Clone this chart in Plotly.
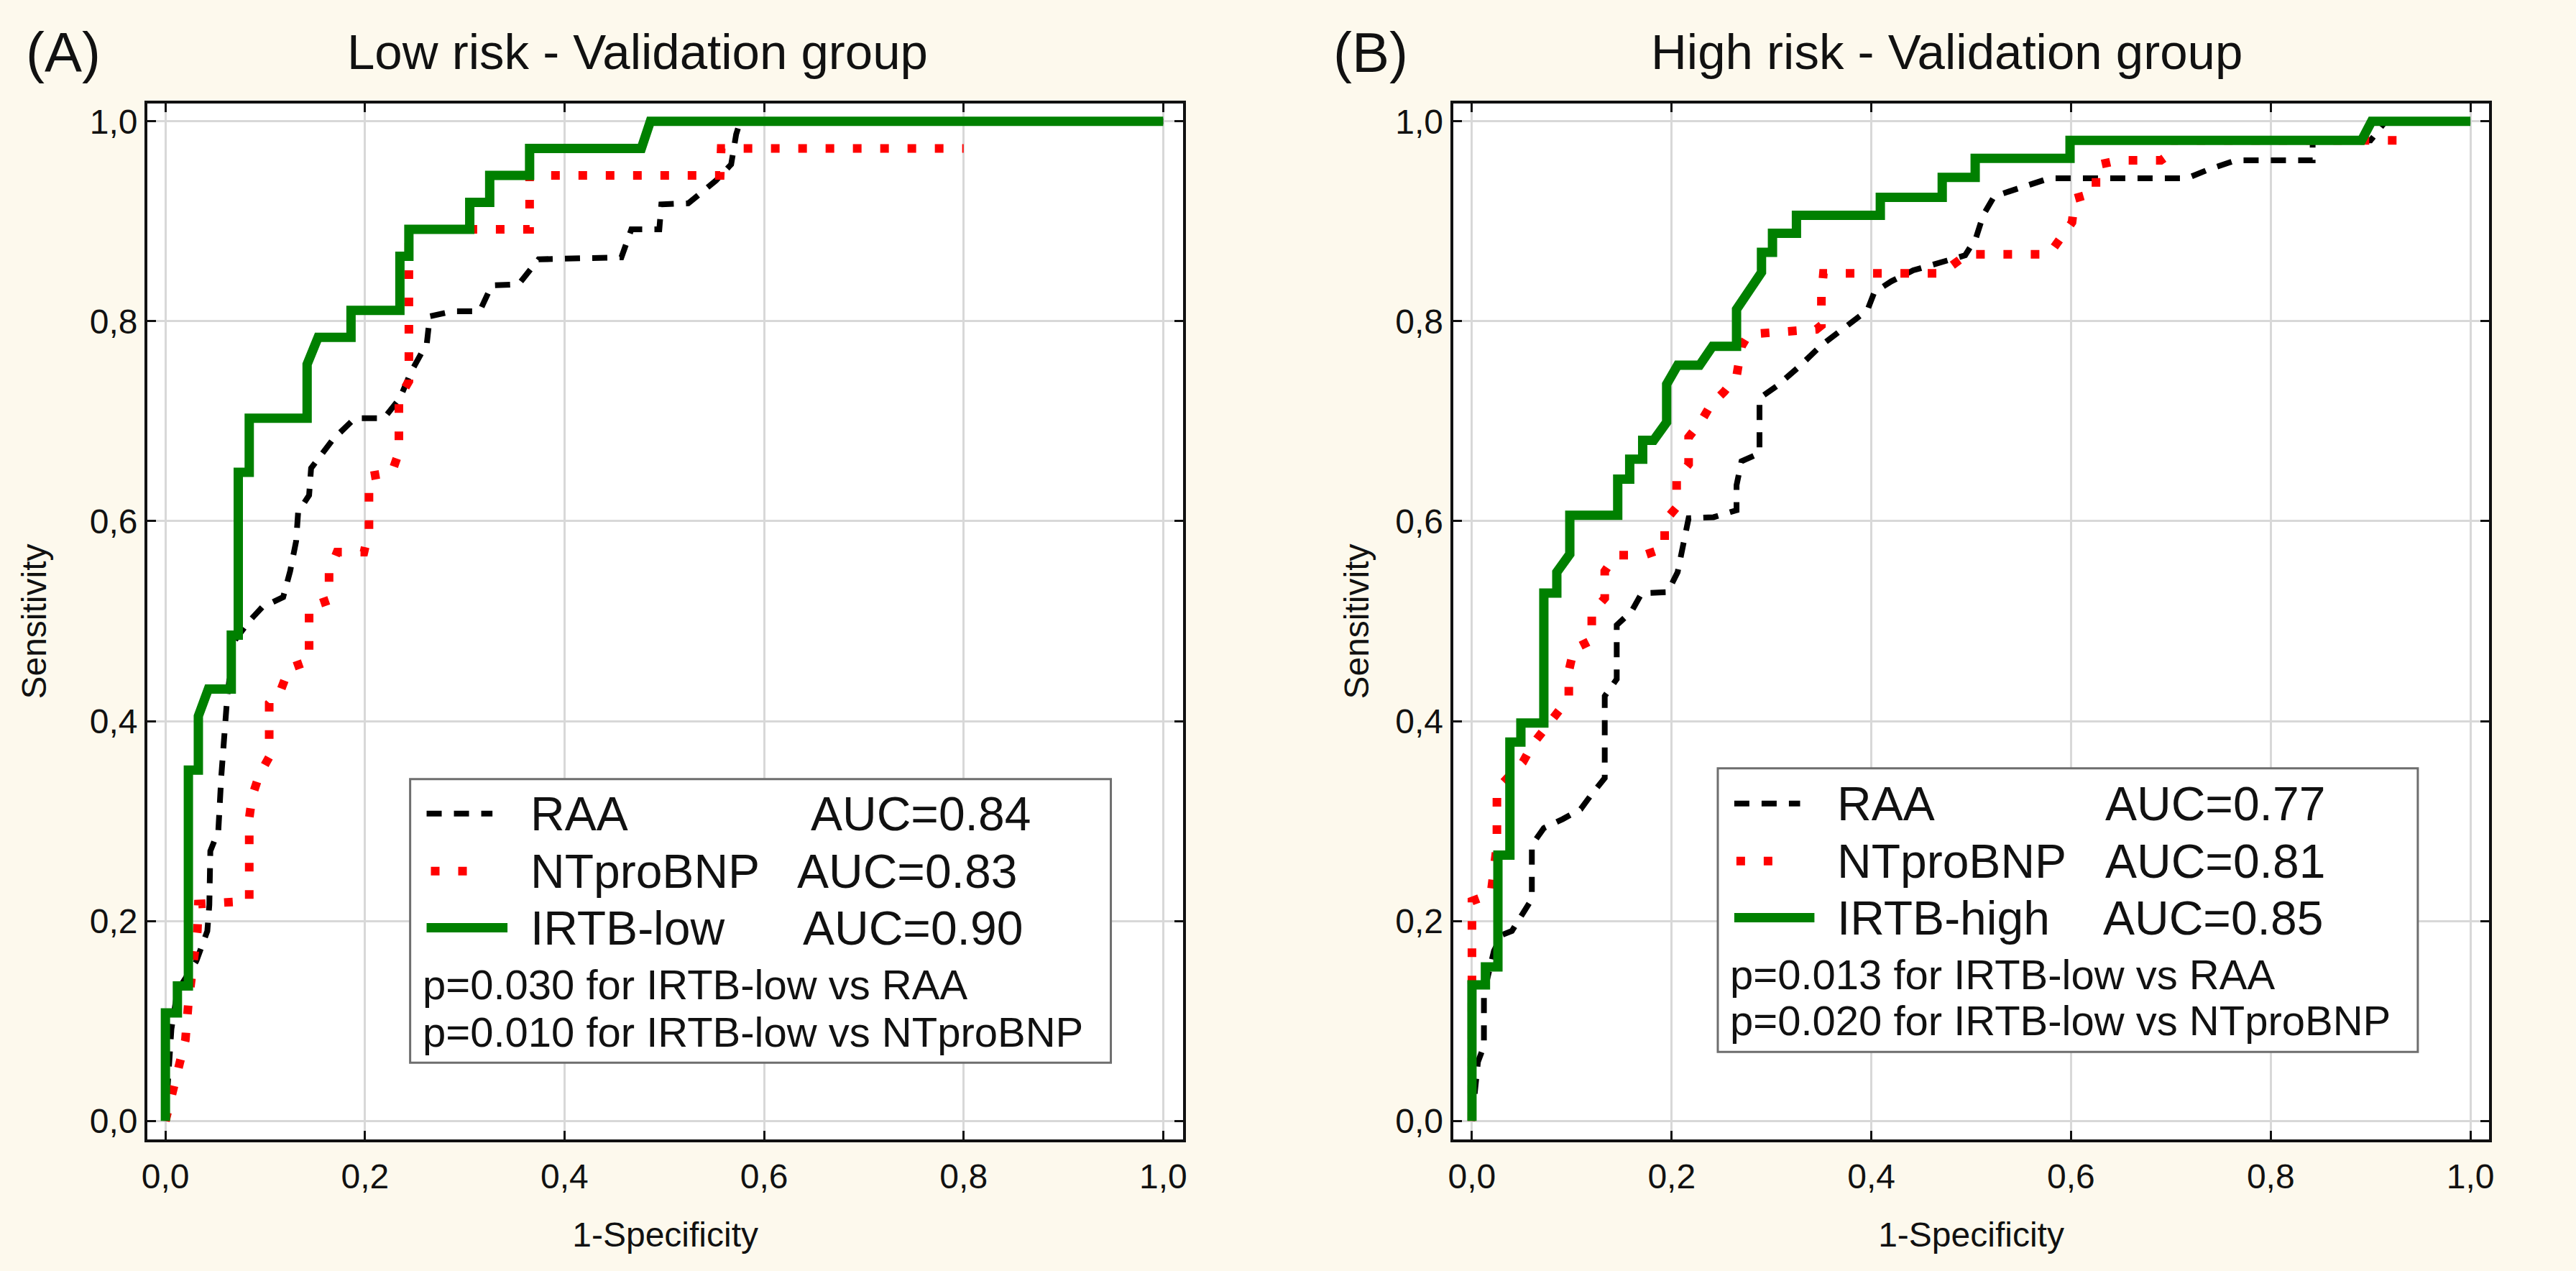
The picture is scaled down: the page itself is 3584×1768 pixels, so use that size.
import plotly.graph_objects as go

W, H = 3584, 1768
FONT = "Liberation Sans, Arial, sans-serif"

# ---------------- data ----------------
tick_vals = [0.0, 0.2, 0.4, 0.6, 0.8, 1.0]
tick_text = ["0,0", "0,2", "0,4", "0,6", "0,8", "1,0"]

# Panel A - Low risk
raa_a_x = [0.0, 0.006, 0.012, 0.031, 0.042, 0.044, 0.045, 0.053, 0.056, 0.060, 0.062, 0.069, 0.084,
           0.097, 0.118, 0.125, 0.131, 0.133, 0.144, 0.146, 0.168, 0.190, 0.219, 0.235, 0.246, 0.262,
           0.265, 0.288, 0.315, 0.327, 0.354, 0.374, 0.457, 0.467, 0.495, 0.497, 0.524, 0.552, 0.567,
           0.572, 0.576, 1.0]
raa_a_y = [0.0, 0.092, 0.13, 0.160, 0.190, 0.216, 0.270, 0.290, 0.345, 0.400, 0.425, 0.480, 0.500,
           0.514, 0.524, 0.550, 0.580, 0.609, 0.626, 0.653, 0.682, 0.703, 0.703, 0.723, 0.749, 0.778,
           0.805, 0.810, 0.810, 0.836, 0.837, 0.862, 0.864, 0.892, 0.892, 0.917, 0.918, 0.941, 0.957,
           0.987, 1.0, 1.0]
nt_a_x = [0.0, 0.020, 0.023, 0.032, 0.033, 0.084, 0.084, 0.087, 0.094, 0.104, 0.104, 0.116, 0.124,
          0.144, 0.144, 0.164, 0.164, 0.172, 0.199, 0.204, 0.204, 0.227, 0.234, 0.234, 0.244, 0.244,
          0.365, 0.365, 0.556, 0.557, 0.800]
nt_a_y = [0.0, 0.081, 0.118, 0.190, 0.217, 0.220, 0.303, 0.325, 0.346, 0.364, 0.418, 0.432, 0.453,
          0.460, 0.514, 0.521, 0.549, 0.569, 0.569, 0.591, 0.645, 0.649, 0.669, 0.723, 0.740, 0.892,
          0.892, 0.946, 0.946, 0.973, 0.973]
irtb_a_x = [0.0, 0.0, 0.012, 0.012, 0.023, 0.023, 0.033, 0.033, 0.043, 0.066, 0.066, 0.073, 0.073,
            0.084, 0.084, 0.142, 0.142, 0.153, 0.186, 0.186, 0.235, 0.235, 0.244, 0.244, 0.305, 0.305,
            0.325, 0.325, 0.365, 0.365, 0.477, 0.486, 1.0]
irtb_a_y = [0.0, 0.108, 0.108, 0.135, 0.135, 0.351, 0.351, 0.405, 0.432, 0.432, 0.486, 0.486, 0.649,
            0.649, 0.703, 0.703, 0.757, 0.784, 0.784, 0.811, 0.811, 0.865, 0.865, 0.892, 0.892, 0.919,
            0.919, 0.946, 0.946, 0.973, 0.973, 1.0, 1.0]

# Panel B - High risk
raa_b_x = [0.0, 0.006, 0.012, 0.012, 0.022, 0.030, 0.040, 0.049, 0.060, 0.060, 0.072, 0.091, 0.109,
           0.120, 0.133, 0.133, 0.145, 0.145, 0.160, 0.170, 0.196, 0.206, 0.211, 0.217, 0.242, 0.265,
           0.265, 0.270, 0.288, 0.288, 0.305, 0.327, 0.350, 0.372, 0.396, 0.403, 0.420, 0.442, 0.467,
           0.494, 0.505, 0.512, 0.523, 0.549, 0.578, 0.716, 0.738, 0.765, 0.842, 0.842, 0.900, 0.915, 1.0]
raa_b_y = [0.0, 0.059, 0.075, 0.128, 0.170, 0.186, 0.190, 0.205, 0.222, 0.276, 0.293, 0.302, 0.312,
           0.327, 0.343, 0.425, 0.442, 0.496, 0.510, 0.528, 0.529, 0.549, 0.576, 0.603, 0.604, 0.611,
           0.636, 0.660, 0.668, 0.723, 0.735, 0.754, 0.776, 0.792, 0.811, 0.829, 0.840, 0.851, 0.858,
           0.866, 0.884, 0.906, 0.925, 0.934, 0.943, 0.943, 0.952, 0.961, 0.961, 0.981, 0.981, 1.0, 1.0]
nt_b_x = [0.0, 0.0, 0.019, 0.025, 0.025, 0.051, 0.061, 0.084, 0.097, 0.097, 0.102, 0.120, 0.120,
          0.133, 0.133, 0.144, 0.172, 0.193, 0.193, 0.205, 0.205, 0.217, 0.217, 0.229, 0.239, 0.253,
          0.265, 0.270, 0.277, 0.345, 0.350, 0.350, 0.352, 0.470, 0.481, 0.496, 0.578, 0.589, 0.601,
          0.604, 0.625, 0.625, 0.647, 0.690, 0.697, 0.700, 0.930]
nt_b_y = [0.0, 0.220, 0.227, 0.276, 0.332, 0.359, 0.377, 0.407, 0.423, 0.450, 0.472, 0.481, 0.508,
          0.523, 0.550, 0.566, 0.566, 0.573, 0.600, 0.614, 0.642, 0.657, 0.684, 0.699, 0.716, 0.730,
          0.745, 0.775, 0.787, 0.792, 0.796, 0.825, 0.848, 0.848, 0.856, 0.867, 0.867, 0.883, 0.899,
          0.923, 0.929, 0.956, 0.961, 0.961, 0.966, 0.981, 0.981]
irtb_b_x = [0.0, 0.0, 0.0135, 0.0135, 0.026, 0.026, 0.038, 0.038, 0.049, 0.049, 0.072, 0.072, 0.085,
            0.085, 0.098, 0.098, 0.146, 0.146, 0.158, 0.158, 0.171, 0.171, 0.182, 0.195, 0.195, 0.206,
            0.228, 0.241, 0.265, 0.265, 0.290, 0.290, 0.301, 0.301, 0.325, 0.325, 0.409, 0.409, 0.471,
            0.471, 0.504, 0.504, 0.599, 0.599, 0.891, 0.901, 1.0]
irtb_b_y = [0.0, 0.136, 0.136, 0.154, 0.154, 0.266, 0.266, 0.379, 0.379, 0.398, 0.398, 0.528, 0.528,
            0.549, 0.567, 0.606, 0.606, 0.642, 0.642, 0.662, 0.662, 0.681, 0.681, 0.699, 0.737, 0.756,
            0.756, 0.775, 0.775, 0.812, 0.849, 0.869, 0.869, 0.888, 0.888, 0.906, 0.906, 0.924, 0.924,
            0.944, 0.944, 0.963, 0.963, 0.981, 0.981, 1.0, 1.0]

titles = ["Low risk - Validation group", "High risk - Validation group"]
panel_labels = ["(A)", "(B)"]
series_names_a = ["RAA", "NTproBNP", "IRTB-low"]
series_names_b = ["RAA", "NTproBNP", "IRTB-high"]
auc_a = ["AUC=0.84", "AUC=0.83", "AUC=0.90"]
auc_b = ["AUC=0.77", "AUC=0.81", "AUC=0.85"]
pvals_a = ["p=0.030 for IRTB-low vs RAA", "p=0.010 for IRTB-low vs NTproBNP"]
pvals_b = ["p=0.013 for IRTB-low vs RAA", "p=0.020 for IRTB-low vs NTproBNP"]
x_title = "1-Specificity"
y_title = "Sensitivity"

# ---------------- styles ----------------
BG = "#fdf9ed"
BLACK = "#000000"
RED = "#ff0000"
GREEN = "#008000"
TXT = "#111111"
STY_RAA = dict(color=BLACK, width=8, dash="21px,17px")
STY_NT = dict(color=RED, width=12, dash="12px,26px")
STY_IRTB = dict(color=GREEN, width=13)


def px(xp):
    return xp / W


def py(yp):
    return 1 - yp / H


fig = go.Figure()

for xa, ya, sets in [
    ("x", "y", [(raa_a_x, raa_a_y, STY_RAA, series_names_a[0]),
                (nt_a_x, nt_a_y, STY_NT, series_names_a[1]),
                (irtb_a_x, irtb_a_y, STY_IRTB, series_names_a[2])]),
    ("x2", "y2", [(raa_b_x, raa_b_y, STY_RAA, series_names_b[0]),
                  (nt_b_x, nt_b_y, STY_NT, series_names_b[1]),
                  (irtb_b_x, irtb_b_y, STY_IRTB, series_names_b[2])]),
]:
    for xs, ys, sty, nm in sets:
        fig.add_trace(go.Scatter(x=xs, y=ys, mode="lines", line=sty, name=nm,
                                 xaxis=xa, yaxis=ya, showlegend=False, hoverinfo="skip"))

axis_common = dict(
    showgrid=True, gridcolor="#d8d8d8", gridwidth=3, zeroline=False,
    showline=True, linecolor=TXT, linewidth=4, mirror="ticks",
    ticks="inside", ticklen=12, tickwidth=3, tickcolor=TXT,
    tickvals=tick_vals, ticktext=tick_text,
    tickfont=dict(family=FONT, size=48, color=TXT),
    fixedrange=True,
)
ydom = [1 - 1586 / H, 1 - 143 / H]
fig.update_layout(
    width=W, height=H,
    margin=dict(l=0, r=0, t=0, b=0),
    paper_bgcolor=BG, plot_bgcolor="white",
    font=dict(family=FONT, color=TXT),
    xaxis=dict(axis_common, domain=[198 / W, 1645 / W], range=[-0.018, 1.020], anchor="y",
               ticklabelstandoff=6,
               title=dict(text=x_title, font=dict(size=48), standoff=40)),
    yaxis=dict(axis_common, domain=ydom, range=[-0.0187, 1.018], anchor="x",
               title=dict(text=y_title, font=dict(size=48), standoff=46)),
    xaxis2=dict(axis_common, domain=[2022 / W, 3470 / W], range=[-0.019, 1.019], anchor="y2",
                ticklabelstandoff=6,
                title=dict(text=x_title, font=dict(size=48), standoff=40)),
    yaxis2=dict(axis_common, domain=ydom, range=[-0.0187, 1.018], anchor="x2",
                title=dict(text=y_title, font=dict(size=48), standoff=22)),
    showlegend=False,
)

shapes = []
annotations = []

# titles and panel labels
for lab, lab_x, ttl, ttl_x in [(panel_labels[0], 26, titles[0], 883),
                               (panel_labels[1], 1853, titles[1], 2712)]:
    annotations.append(dict(x=px(lab_x), y=py(72), xref="paper", yref="paper", text=lab,
                            showarrow=False, xanchor="left", yanchor="middle",
                            font=dict(size=78, family=FONT, color=TXT)))
    annotations.append(dict(x=px(ttl_x), y=py(72), xref="paper", yref="paper", text=ttl,
                            showarrow=False, xanchor="center", yanchor="middle",
                            font=dict(size=69, family=FONT, color=TXT)))

# legends
legend_specs = [
    dict(box=(565, 1084, 1544, 1479), names=series_names_a, aucs=auc_a, pvals=pvals_a,
         rows=[1132, 1212, 1291], prow=[1370, 1436],
         samples=[(588, 680), (594, 670), (588, 701)], text_x=731,
         auc_x=[1123, 1104, 1112], p_x=580),
    dict(box=(2392, 1069, 3370, 1464), names=series_names_b, aucs=auc_b, pvals=pvals_b,
         rows=[1118, 1198, 1277], prow=[1356, 1420],
         samples=[(2415, 2507), (2418, 2494), (2415, 2527)], text_x=2557,
         auc_x=[2931, 2931, 2928], p_x=2407),
]
for spec in legend_specs:
    x0, y0, x1, y1 = spec["box"]
    shapes.append(dict(type="rect", xref="paper", yref="paper", x0=px(x0), x1=px(x1),
                       y0=py(y1), y1=py(y0), fillcolor="white",
                       line=dict(color="#6e6e6e", width=3), layer="above"))
    for (sx0, sx1), ry, sty in zip(spec["samples"], spec["rows"], [STY_RAA, STY_NT, STY_IRTB]):
        shapes.append(dict(type="line", xref="paper", yref="paper", x0=px(sx0), x1=px(sx1),
                           y0=py(ry), y1=py(ry),
                           line=dict(color=sty["color"], width=sty["width"], dash=sty.get("dash", "solid")),
                           layer="above"))
    for nm, auc, ry, ax in zip(spec["names"], spec["aucs"], spec["rows"], spec["auc_x"]):
        annotations.append(dict(x=px(spec["text_x"]), y=py(ry), xref="paper", yref="paper", text=nm,
                                showarrow=False, xanchor="left", yanchor="middle",
                                font=dict(size=66, family=FONT, color=TXT)))
        annotations.append(dict(x=px(ax), y=py(ry), xref="paper", yref="paper", text=auc,
                                showarrow=False, xanchor="left", yanchor="middle",
                                font=dict(size=66, family=FONT, color=TXT)))
    for pt, ry in zip(spec["pvals"], spec["prow"]):
        annotations.append(dict(x=px(spec["p_x"]), y=py(ry), xref="paper", yref="paper", text=pt,
                                showarrow=False, xanchor="left", yanchor="middle",
                                font=dict(size=58, family=FONT, color=TXT)))

fig.update_layout(shapes=shapes, annotations=annotations)
fig.write_html("out.html",
               config={"displayModeBar": False, "staticPlot": True},
               post_script="document.body.style.margin='0px';document.body.style.overflow='hidden';")
